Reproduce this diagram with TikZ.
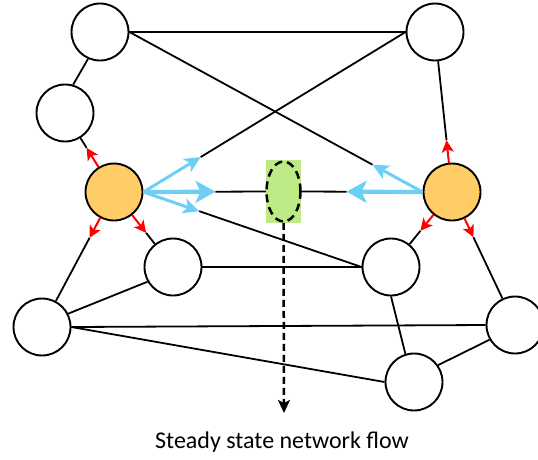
\documentclass[tikz,border=0pt]{standalone}
\usepackage{fontspec}
\setmainfont{Carlito}
\usetikzlibrary{arrows.meta,calc,shapes.geometric}

\definecolor{hubfill}{RGB}{255,204,102}
\definecolor{flowgreen}{RGB}{189,234,133}
\definecolor{flowblue}{RGB}{109,207,246}

\tikzset{
  netnode/.style={circle,draw,line width=1.9pt,minimum size=57pt,inner sep=0pt,fill=white},
  hubnode/.style={netnode,fill=hubfill},
  edge/.style={line width=1.8pt},
  pusharrow/.style={draw=red,line width=2pt,-{Stealth[length=12pt,width=12pt,inset=3pt]}},
  flowarrow/.style={draw=flowblue,line width=3pt,-{Stealth[length=16pt,width=15pt,inset=4pt]}},
  mainflow/.style={draw=flowblue,line width=4.2pt,-{Stealth[length=20pt,width=22pt,inset=5pt]}}
}

\begin{document}
\begin{tikzpicture}[x=1pt,y=-1pt]
    \clip (0,0) rectangle (538,459);

    % Define nodes
    \node[netnode] (A) at (100,32) {};
    \node[netnode] (B) at (435,32) {};
    \node[netnode] (C) at (65,113) {};
    \node[hubnode] (D) at (114,192) {};
    \node[hubnode] (E) at (452,192) {};
    \node[netnode] (F) at (173,267) {};
    \node[netnode] (G) at (391,267) {};
    \node[netnode] (H) at (42,327) {};
    \node[netnode] (I) at (515,325) {};
    \node[netnode] (J) at (414,382) {};

    % Flow monitor in the middle
    \node[fill=flowgreen,minimum width=35pt,minimum height=63pt,inner sep=0pt] (flow) at (283.5,191.5) {};
    \node[ellipse,draw,dash pattern=on 8pt off 5pt,line width=2.5pt,minimum width=34pt,minimum height=60pt,inner sep=0pt] (flowell) at (283.5,191.5) {};

    % Tips of the arrows
    \coordinate (dC) at ($(D)!52pt!(C)$);
    \coordinate (dH) at ($(D)!52pt!(H)$);
    \coordinate (dF) at ($(D)!52pt!(F)$);
    \coordinate (eB) at ($(E)!52pt!(B)$);
    \coordinate (eG) at ($(E)!50pt!(G)$);
    \coordinate (eI) at ($(E)!50pt!(I)$);
    \coordinate (dB) at ($(D.east)!67pt!(B.west)$);
    \coordinate (dG) at ($(D.east)!59pt!(G.west)$);
    \coordinate (dM) at ($(D.east)!72pt!(flow.west)$);
    \coordinate (eA) at ($(E.west)!57pt!(A.east)$);
    \coordinate (eM) at ($(E.west)!76pt!(flow.east)$);
    \coordinate (flowend) at (284,413);

    % Draw edges
    \draw[edge] (A) -- (B);
    \draw[edge] (A.246) -- (C.74);
    \draw[edge] (A.east) -- (eA);
    \draw[edge] (B.west) -- (dB);
    \draw[edge] (dG) -- (G.west);
    \draw[edge] (dM) -- (flow.west);
    \draw[edge] (flow.east) -- (eM);
    \draw[edge] (dC) -- (C);
    \draw[edge] (dH) -- (H);
    \draw[edge] (dF) -- (F);
    \draw[edge] (eB) -- (B);
    \draw[edge] (eG) -- (G);
    \draw[edge] (eI) -- (I);
    \draw[edge] (F) -- (G);
    \draw[edge] (F.210) -- (H.27);
    \draw[edge] (H.east) -- (I.west);
    \draw[edge] (H.east) -- (J.west);
    \draw[edge] (G.south) -- (J.107);
    \draw[edge] (J.35) -- (I.210);

    % Red arrows out of the hubs
    \draw[pusharrow] (D) -- (dC);
    \draw[pusharrow] (D) -- (dH);
    \draw[pusharrow] (D) -- (dF);
    \draw[pusharrow] (E) -- (eB);
    \draw[pusharrow] (E) -- (eG);
    \draw[pusharrow] (E) -- (eI);

    % Blue flow arrows
    \draw[flowarrow] (D.east) -- (dB);
    \draw[flowarrow] (D.east) -- (dG);
    \draw[mainflow] (D.east) -- (dM);
    \draw[flowarrow] (E.west) -- (eA);
    \draw[mainflow] (E.west) -- (eM);

    % Dashed arrow to the label
    \draw[line width=2.5pt,dash pattern=on 7pt off 4pt,-{Stealth[length=13pt,width=12pt,inset=3pt]}] (flowell.south) -- (flowend);
    \node[anchor=base,font=\fontsize{24}{28}\selectfont] (caption) at (282,448) {Steady state network flow};
\end{tikzpicture}
\end{document}
